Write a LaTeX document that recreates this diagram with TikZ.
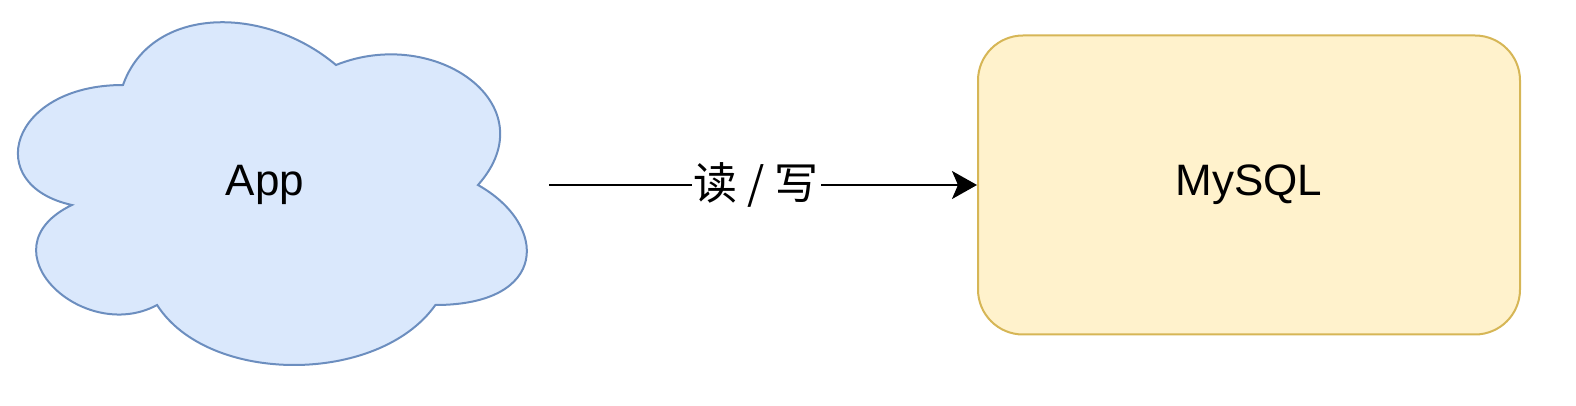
\documentclass[tikz,border=0pt]{standalone}
\usepackage{fontspec}
\setmainfont{Liberation Sans}
\newfontfamily\cjk{Noto Sans CJK SC}
\usetikzlibrary{arrows.meta}
\definecolor{cloudfill}{HTML}{DAE8FC}
\definecolor{cloudline}{HTML}{6C8EBF}
\definecolor{dbfill}{HTML}{FFF2CC}
\definecolor{dbline}{HTML}{D6B656}
\begin{document}
\begin{tikzpicture}[x=0.5pt, y=-0.5pt, line width=1pt, font=\fontsize{22}{26}\selectfont,
	dbbox/.style={draw=dbline, fill=dbfill, rounded corners=22.5pt, minimum width=271pt, minimum height=149.5pt},
	rw/.style={fill=white, inner sep=1pt}]
	\useasboundingbox (0,0) rectangle (1576,406);
	\begin{scope}[xshift=-9.5pt, yshift=7.5pt, x=284pt, y=-200pt]
		\filldraw [draw=cloudline, fill=cloudfill] (0.25,0.25) .. controls (0.05,0.25) and (0,0.5) .. (0.16,0.55)
			.. controls (0,0.66) and (0.18,0.9) .. (0.31,0.8)
			.. controls (0.4,1) and (0.7,1) .. (0.8,0.8)
			.. controls (1,0.8) and (1,0.6) .. (0.875,0.5)
			.. controls (1,0.3) and (0.8,0.1) .. (0.625,0.2)
			.. controls (0.5,0.05) and (0.3,0.05) .. (0.25,0.25) -- cycle;
		\node (app) at (0.5,0.5) {App};
		\coordinate (appout) at (1,0.5);
	\end{scope}
	\node [dbbox] (mysql) at (1249,185) {MySQL};
	\draw [-{Stealth[length=12.5pt, width=14pt, inset=3pt]}] (appout) -- (mysql.west) node [rw, pos=0.484] {\cjk 读 / 写};
\end{tikzpicture}
\end{document}
